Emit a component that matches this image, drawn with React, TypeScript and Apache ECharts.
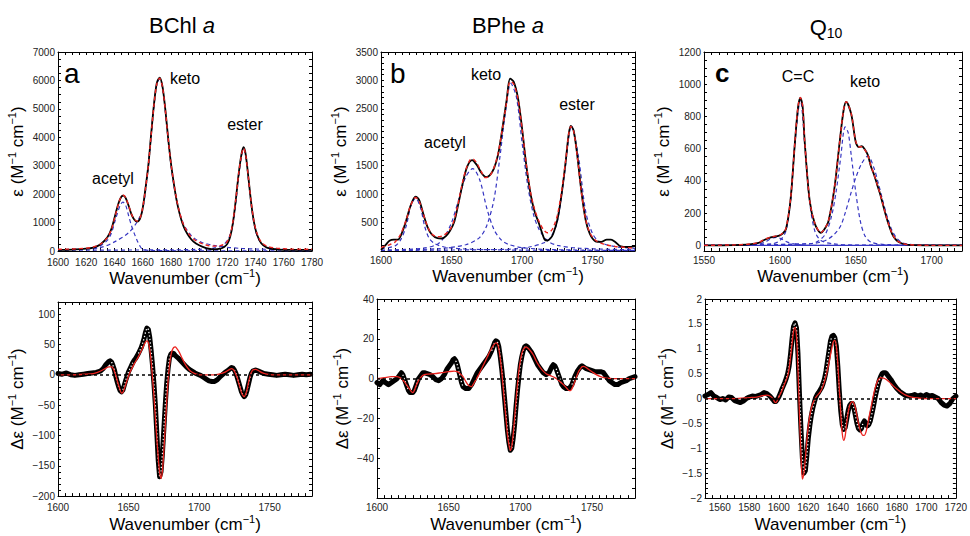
import React, { useEffect, useRef } from "react";
import * as echarts from "echarts";

type P = [number, number];

// ---------- Panel a: BChl a (IR absorption) ----------
const bchlMeasured: P[] = [[1600,40],[1610,50],[1620,80],[1625,120],[1630,230],[1635,480],[1638,800],[1641,1350],[1643,1700],[1645,1920],[1646.5,1950],[1648,1860],[1650,1600],[1652,1300],[1654,1110],[1656,1030],[1658,1120],[1660,1500],[1662,2200],[1664,3000],[1666,4100],[1668,5150],[1670,5900],[1672,6100],[1674,5800],[1676,5000],[1678,4000],[1680,3100],[1682,2400],[1684,1800],[1686,1350],[1688,1000],[1690,750],[1693,500],[1696,330],[1700,200],[1705,100],[1710,60],[1715,80],[1718,150],[1720,250],[1722,500],[1724,1000],[1726,1800],[1728,2700],[1730,3400],[1731.5,3650],[1733,3400],[1735,2550],[1737,1650],[1739,980],[1741,580],[1744,270],[1748,120],[1755,60],[1765,40],[1780,40]];
const bchlFit: P[] = [[1600,60],[1610,70],[1620,100],[1625,140],[1630,240],[1635,470],[1638,780],[1641,1320],[1643,1690],[1645,1930],[1646.5,1960],[1648,1870],[1650,1610],[1652,1310],[1654,1120],[1656,1050],[1658,1150],[1660,1520],[1662,2200],[1664,3000],[1666,4080],[1668,5130],[1670,5880],[1672,6080],[1674,5780],[1676,4980],[1678,3990],[1680,3100],[1682,2420],[1684,1830],[1686,1390],[1688,1060],[1690,820],[1693,580],[1696,420],[1700,300],[1705,210],[1710,170],[1715,190],[1718,250],[1720,340],[1722,560],[1724,1040],[1726,1820],[1728,2700],[1730,3380],[1731.5,3620],[1733,3380],[1735,2550],[1737,1670],[1739,1010],[1741,620],[1744,320],[1748,170],[1755,100],[1765,70],[1780,60]];
const bchlAcetyl: P[] = [[1600,40],[1615,60],[1625,110],[1630,180],[1635,380],[1638,650],[1641,1150],[1644,1600],[1646,1720],[1648,1600],[1650,1250],[1652,900],[1654,620],[1656,380],[1658,180],[1660,60],[1665,20],[1680,10],[1780,5]];
const bchlKeto: P[] = [[1600,40],[1615,70],[1630,120],[1640,320],[1650,640],[1655,940],[1658,1200],[1660,1450],[1662,2100],[1664,2950],[1666,4050],[1668,5100],[1670,5850],[1672,6050],[1674,5750],[1676,4950],[1678,3950],[1680,3050],[1682,2350],[1684,1800],[1686,1380],[1688,1070],[1690,850],[1694,570],[1698,400],[1702,300],[1710,200],[1720,130],[1730,90],[1740,70],[1760,50],[1780,40]];
const bchlEster: P[] = [[1600,30],[1680,40],[1700,60],[1710,100],[1715,160],[1718,250],[1721,450],[1724,950],[1726,1700],[1728,2600],[1730,3350],[1731.5,3600],[1733,3350],[1735,2500],[1737,1600],[1739,950],[1741,550],[1744,280],[1748,150],[1755,80],[1765,50],[1780,40]];

// ---------- Panel b: BPhe a ----------
const bpheMeasured: P[] = [[1600,20],[1603,100],[1606,180],[1609,200],[1612,200],[1615,330],[1618,550],[1621,800],[1624.5,955],[1627,900],[1630,650],[1633,420],[1636,290],[1640,225],[1643,220],[1646,260],[1649,360],[1652,520],[1655,850],[1658,1200],[1661,1480],[1664.5,1600],[1668,1510],[1671,1380],[1674.5,1300],[1677,1330],[1680,1450],[1683,1700],[1686,2150],[1689,2650],[1691.5,3030],[1694,2980],[1697,2700],[1700,2150],[1703,1500],[1706,1000],[1709,680],[1712,480],[1714,330],[1716,200],[1718,185],[1720,220],[1722,300],[1725,550],[1728,1000],[1731,1600],[1733,2050],[1734.5,2200],[1736.5,2120],[1739,1700],[1742,1050],[1745,550],[1748,300],[1752,170],[1756,160],[1760,200],[1763,200],[1766,160],[1770,80],[1775,70],[1780,85]];
const bpheFit: P[] = [[1600,60],[1605,100],[1610,160],[1614,300],[1618,560],[1621,800],[1624.5,940],[1627,880],[1630,650],[1633,430],[1636,300],[1640,250],[1644,270],[1648,350],[1651,480],[1654,760],[1657,1120],[1660,1420],[1663,1600],[1665,1620],[1668,1540],[1671,1400],[1674,1290],[1677,1320],[1680,1460],[1683,1720],[1686,2150],[1689,2620],[1691.5,2980],[1694,2940],[1697,2680],[1700,2150],[1703,1520],[1706,1030],[1709,720],[1712,520],[1715,380],[1718,320],[1720,340],[1722,410],[1725,630],[1728,1050],[1731,1620],[1733,2050],[1734.5,2190],[1736.5,2110],[1739,1680],[1742,1040],[1745,560],[1748,320],[1752,190],[1758,120],[1766,80],[1780,50]];
const bpheBand1625: P[] = [[1600,40],[1610,90],[1614,200],[1618,450],[1621,780],[1624.5,930],[1628,760],[1631,430],[1634,230],[1638,130],[1645,70],[1660,35],[1700,15],[1780,5]];
const bpheAcetyl: P[] = [[1600,10],[1630,50],[1640,120],[1645,250],[1650,500],[1655,900],[1660,1300],[1665,1450],[1670,1250],[1675,750],[1680,380],[1685,200],[1690,120],[1700,60],[1720,25],[1780,10]];
const bpheKeto: P[] = [[1600,10],[1640,40],[1660,110],[1670,240],[1675,450],[1680,900],[1684,1600],[1688,2400],[1692,2950],[1696,2700],[1700,1900],[1704,1150],[1708,650],[1712,380],[1718,180],[1725,100],[1740,50],[1780,20]];
const bpheEster: P[] = [[1600,10],[1690,30],[1705,70],[1715,140],[1720,230],[1725,520],[1730,1350],[1735,2200],[1740,1650],[1745,700],[1750,300],[1755,160],[1765,80],[1780,45]];

// ---------- Panel c: Q10 ----------
const q10Measured: P[] = [[1550,0],[1570,2],[1580,6],[1586,15],[1590,35],[1594,50],[1597,55],[1600,62],[1602,75],[1604,100],[1607,280],[1610,650],[1612,860],[1613.5,915],[1615,860],[1616.3,650],[1619.6,280],[1623,135],[1627,78],[1629,95],[1632,150],[1636,360],[1639.5,650],[1642,840],[1643.7,890],[1647,815],[1650,640],[1652,610],[1654,615],[1656,595],[1658,560],[1660,490],[1662,440],[1664,380],[1666,320],[1668,250],[1670,180],[1672,120],[1674,70],[1676,40],[1678,22],[1681,10],[1685,3],[1700,0],[1720,0]];
const q10Fit: P[] = [[1550,0],[1570,3],[1580,8],[1586,18],[1590,38],[1594,52],[1597,57],[1600,64],[1602,78],[1604,105],[1607,285],[1610,655],[1612,865],[1613.5,918],[1615,862],[1616.3,652],[1619.6,282],[1623,138],[1627,80],[1629,96],[1632,152],[1636,362],[1639.5,652],[1642,842],[1643.7,892],[1647,818],[1650,645],[1652,612],[1654,612],[1656,592],[1658,558],[1660,492],[1662,442],[1664,382],[1666,322],[1668,252],[1670,182],[1672,122],[1674,72],[1676,42],[1678,24],[1681,11],[1685,4],[1700,0],[1720,0]];
const q10CC: P[] = [[1550,0],[1595,10],[1600,30],[1604,90],[1607,270],[1610,640],[1613.5,905],[1616.3,640],[1619.6,270],[1623,90],[1627,30],[1635,10],[1650,2],[1720,0]];
const q10Keto1: P[] = [[1550,0],[1620,10],[1625,25],[1630,70],[1634,180],[1637,330],[1640,540],[1643,735],[1645,700],[1647,560],[1650,330],[1653,150],[1656,60],[1660,20],[1670,5],[1720,0]];
const q10Keto2: P[] = [[1550,0],[1620,10],[1630,30],[1636,70],[1640,120],[1643,200],[1647,330],[1650,420],[1654,510],[1658,555],[1662,480],[1665,380],[1668,270],[1671,170],[1674,90],[1677,45],[1681,15],[1690,3],[1720,0]];
const q10Band1598: P[] = [[1550,0],[1585,5],[1590,20],[1595,45],[1598,50],[1601,40],[1605,20],[1610,8],[1620,0],[1720,0]];
const q10Baseline: P[] = [[1550,0],[1720,0]];

// ---------- Panel d: BChl a CD ----------
const bchlCdMeasured: P[] = [[1600,2],[1603,1],[1606,3],[1609,0],[1612,-1],[1615,0],[1618,1],[1621,2],[1624,3],[1627,4],[1630,6],[1632,10],[1634,17],[1636,22],[1637,23],[1638,21],[1639,15],[1640,8],[1641,-3],[1642,-12],[1643,-20],[1644,-26],[1645,-28],[1646,-25],[1647,-17],[1648,-9],[1649,-2],[1650,5],[1651,10],[1652,15],[1653,20],[1654,24],[1655,27],[1656,31],[1657,35],[1658,40],[1659,45],[1660,52],[1661,60],[1662,70],[1663,77],[1664,75],[1665,62],[1666,40],[1667,15],[1668,-15],[1669,-50],[1670,-95],[1671,-140],[1672,-168],[1673,-160],[1674,-130],[1675,-90],[1676,-50],[1677,-15],[1678,10],[1679,28],[1680,34],[1681,36],[1682,35],[1683,32],[1685,28],[1687,23],[1689,18],[1691,13],[1693,9],[1695,6],[1697,3],[1699,1],[1701,-1],[1703,-4],[1705,-7],[1707,-10],[1709,-11],[1711,-11],[1713,-8],[1715,-3],[1717,1],[1719,5],[1721,8],[1723,12],[1724,11],[1725,8],[1726,3],[1727,-4],[1728,-12],[1729,-20],[1730,-28],[1731,-33],[1732,-36],[1733,-33],[1734,-25],[1735,-15],[1736,-5],[1737,2],[1738,6],[1740,8],[1742,6],[1744,4],[1746,2],[1749,1],[1752,0],[1755,-1],[1758,0],[1761,1],[1764,0],[1767,-1],[1770,0],[1773,1],[1776,0],[1779,1]];
const bchlCdFit: P[] = [[1600,0],[1610,0],[1620,1],[1625,2],[1628,4],[1631,7],[1634,11],[1636,13],[1638,13],[1640,6],[1642,-10],[1644,-25],[1645,-30],[1646,-29],[1647,-23],[1649,-9],[1651,4],[1654,18],[1657,30],[1660,44],[1662,54],[1663,56],[1664,53],[1665,42],[1666,22],[1667,-5],[1668,-35],[1669,-70],[1670,-105],[1671,-135],[1672,-160],[1673,-171],[1674,-158],[1675,-125],[1676,-85],[1677,-45],[1678,-10],[1679,15],[1680,32],[1681,41],[1682,45],[1683,46],[1684,44],[1686,37],[1688,27],[1690,18],[1692,11],[1694,6],[1697,2],[1700,0],[1705,0],[1710,0],[1714,1],[1718,4],[1721,8],[1723,10],[1724,9],[1725,6],[1726,1],[1727,-5],[1728,-13],[1729,-21],[1730,-29],[1731,-34],[1732,-36],[1733,-32],[1734,-24],[1735,-13],[1736,-3],[1737,4],[1738,8],[1740,9],[1742,7],[1745,3],[1748,1],[1752,0],[1780,0]];

// ---------- Panel e: BPhe a CD ----------
const bpheCdMeasured: P[] = [[1600,-2],[1602,-3],[1604,-1],[1606,-2],[1608,-3],[1610,-2],[1612,-1],[1614,0],[1616,2],[1617,3],[1618,2],[1619,0],[1620,-2],[1621,-4],[1622,-6],[1623,-7],[1624,-7],[1625,-7],[1626,-6],[1627,-4],[1628,-2],[1629,0],[1630,1],[1631,2],[1632,3],[1633,3],[1635,2.5],[1637,2],[1639,1],[1641,-0.5],[1643,-1],[1645,0],[1647,2],[1649,5],[1651,7],[1652,8],[1653,9.5],[1654,10],[1655,9],[1656,7],[1657,4],[1658,1],[1659,-2],[1660,-4],[1662,-5],[1664,-5],[1666,-3],[1668,0],[1670,3],[1672,5],[1674,7],[1676,9],[1678,11],[1680,14],[1682,18],[1683,19],[1684,18.5],[1685,16],[1686,11],[1687,5],[1688,-2],[1689,-10],[1690,-18],[1691,-26],[1692,-32],[1693,-36],[1694,-35],[1695,-30],[1696,-23],[1697,-14],[1698,-6],[1699,1],[1700,7],[1701,11],[1702,14],[1703,16],[1704,16.5],[1705,16],[1706,15],[1708,13],[1710,10],[1712,7],[1714,5],[1716,3],[1718,2],[1720,3],[1721,4.5],[1722,6],[1723,7],[1724,6.5],[1725,5],[1726,3],[1727,1],[1728,-1],[1729,-3],[1730,-4],[1732,-5],[1734,-5],[1735,-4],[1736,-3],[1737,-1],[1738,1],[1739,2.5],[1740,4],[1741,5],[1742,6],[1743,6.5],[1744,6],[1746,5],[1748,4.5],[1750,4],[1752,3.5],[1754,3.5],[1756,3.5],[1758,3],[1760,1],[1762,-1],[1764,-2],[1766,-3],[1768,-3],[1770,-2],[1772,-1.5],[1774,-1],[1776,0],[1778,0.5],[1780,1]];
const bpheCdFit: P[] = [[1600,0],[1605,0.5],[1610,1],[1614,1],[1617,0],[1619,-1.5],[1621,-3.5],[1623,-5.5],[1624,-6.5],[1625,-7],[1626,-6],[1627,-4],[1629,-1],[1631,1],[1633,2],[1636,2.3],[1640,2.5],[1645,3],[1650,3.5],[1654,3.8],[1656,3.5],[1658,2.5],[1660,1],[1662,-1.5],[1664,-3.5],[1666,-4],[1667,-3],[1669,-0.5],[1671,2],[1673,5],[1675,8],[1677,11],[1679,14],[1681,16.5],[1683,18],[1684,17.5],[1685,15],[1686,10],[1687,4],[1688,-4],[1689,-12],[1690,-20],[1691,-28],[1692,-33],[1693,-36],[1694,-34],[1695,-28],[1696,-20],[1697,-11],[1698,-3],[1699,4],[1700,9],[1701,12.5],[1702,14.5],[1703,15.5],[1704,16],[1705,15.5],[1707,14],[1709,12],[1711,9],[1713,6.5],[1715,4.5],[1718,2.5],[1721,1.5],[1724,0.5],[1727,-1],[1730,-3],[1732,-4.5],[1734,-6],[1735,-6],[1736,-5],[1737,-3.5],[1738,-1.5],[1739,0.5],[1740,2.5],[1741,4],[1742,5],[1743,6],[1744,6.2],[1745,6],[1747,5],[1750,3.5],[1753,2],[1756,1],[1760,0.3],[1770,0],[1780,0]];

// ---------- Panel f: Q10 CD ----------
const q10CdMeasured: P[] = [[1550,0.05],[1552,0.08],[1554,0.12],[1556,0.05],[1558,0.02],[1560,-0.02],[1562,0],[1564,-0.03],[1566,0.03],[1568,0.02],[1570,-0.04],[1572,-0.06],[1574,-0.08],[1576,-0.05],[1578,0],[1580,0.03],[1582,0.05],[1584,0.04],[1586,0.06],[1588,0.08],[1590,0.12],[1592,0.1],[1594,0.05],[1596,-0.02],[1597,-0.06],[1598,-0.06],[1599,-0.02],[1600,0.03],[1601,0.1],[1602,0.18],[1603,0.25],[1604,0.32],[1605,0.4],[1606,0.5],[1607,0.65],[1608,0.9],[1609,1.2],[1610,1.45],[1611,1.52],[1612,1.42],[1613,0.9],[1614,0.1],[1615,-0.6],[1616,-1.2],[1617,-1.5],[1618,-1.45],[1619,-1.15],[1620,-0.8],[1621,-0.55],[1622,-0.35],[1623,-0.2],[1624,-0.08],[1625,0.02],[1626,0.08],[1627,0.12],[1628,0.17],[1629,0.22],[1630,0.3],[1631,0.4],[1632,0.55],[1633,0.75],[1634,0.95],[1635,1.15],[1636,1.25],[1637,1.27],[1638,1.22],[1639,1.05],[1640,0.65],[1641,0.15],[1642,-0.25],[1643,-0.52],[1644,-0.62],[1645,-0.58],[1646,-0.42],[1647,-0.25],[1648,-0.14],[1649,-0.1],[1650,-0.1],[1651,-0.2],[1652,-0.35],[1653,-0.5],[1654,-0.6],[1655,-0.63],[1656,-0.6],[1657,-0.5],[1658,-0.45],[1659,-0.5],[1660,-0.55],[1661,-0.52],[1662,-0.45],[1663,-0.32],[1664,-0.18],[1665,-0.02],[1666,0.12],[1667,0.25],[1668,0.36],[1669,0.44],[1670,0.5],[1671,0.52],[1672,0.52],[1673,0.5],[1674,0.46],[1676,0.38],[1678,0.28],[1680,0.2],[1682,0.14],[1684,0.1],[1686,0.06],[1688,0.05],[1690,0.06],[1692,0.08],[1694,0.05],[1696,0.07],[1698,0.04],[1700,0.08],[1702,0.05],[1704,0.06],[1706,0.03],[1708,0],[1710,-0.08],[1712,-0.13],[1714,-0.15],[1716,-0.1],[1718,0],[1720,0.05]];
const q10CdFit: P[] = [[1550,0],[1560,0],[1570,0],[1580,0.02],[1585,0.03],[1589,0.06],[1592,0.07],[1594,0.05],[1596,0],[1597,-0.06],[1598,-0.08],[1599,-0.04],[1600,0.03],[1602,0.15],[1604,0.3],[1606,0.45],[1607,0.6],[1608,0.85],[1609,1.1],[1610,1.35],[1611,1.43],[1612,1.25],[1613,0.6],[1614,-0.3],[1615,-1.1],[1616,-1.62],[1617,-1.5],[1618,-1.2],[1619,-0.85],[1620,-0.55],[1621,-0.35],[1622,-0.2],[1624,-0.03],[1626,0.06],[1628,0.13],[1630,0.25],[1632,0.45],[1634,0.72],[1636,1.02],[1637,1.14],[1638,1.17],[1639,1.05],[1640,0.7],[1641,0.2],[1642,-0.3],[1643,-0.7],[1644,-0.84],[1645,-0.75],[1646,-0.5],[1647,-0.28],[1648,-0.14],[1649,-0.08],[1650,-0.06],[1651,-0.1],[1652,-0.2],[1653,-0.35],[1654,-0.5],[1655,-0.62],[1656,-0.7],[1657,-0.74],[1658,-0.74],[1659,-0.68],[1660,-0.55],[1661,-0.4],[1662,-0.25],[1663,-0.1],[1664,0.05],[1665,0.18],[1666,0.28],[1667,0.36],[1668,0.4],[1669,0.42],[1671,0.41],[1673,0.38],[1675,0.33],[1677,0.27],[1680,0.19],[1683,0.12],[1686,0.07],[1690,0.03],[1695,0.01],[1700,0],[1720,0]];

// ---------- tick labels ----------
const aXLabels = [1600, 1620, 1640, 1660, 1680, 1700, 1720, 1740, 1760, 1780];
const aYLabels = [0, 1000, 2000, 3000, 4000, 5000, 6000, 7000];
const bXLabels = [1600, 1650, 1700, 1750];
const bYLabels = [500, 1000, 1500, 2000, 2500, 3000, 3500];
const cXLabels = [1550, 1600, 1650, 1700];
const cYLabels = [0, 200, 400, 600, 800, 1000, 1200];
const dXLabels = [1600, 1650, 1700, 1750];
const dYLabels = [-200, -150, -100, -50, 0, 50, 100];
const eXLabels = [1600, 1650, 1700, 1750];
const eYLabels = [-40, -20, 0, 20, 40];
const fXLabels = [1560, 1580, 1600, 1620, 1640, 1660, 1680, 1700, 1720];
const fYLabels = [-2, -1.5, -1, -0.5, 0, 0.5, 1, 1.5, 2];

const FONT = "'Liberation Sans', Arial, Helvetica, sans-serif";
const BLUE = "#3535c2";
const RED = "#ec2420";

function steps(a: number, b: number, s: number): number[] {
  const out: number[] = [];
  const n = Math.round((b - a) / s);
  for (let k = 0; k <= n; k++) out.push(Math.round((a + k * s) * 1000) / 1000);
  return out;
}

const fmt = (v: number) => String(v).replace("-", "\u2212");

interface Panel {
  left: number; top: number; width: number; height: number;
  xMin: number; xMax: number; xLabels: number[]; xStep: number;
  yMin: number; yMax: number; yLabels: number[]; yStep: number; yMinorFrom: number;
  yName: string; yNameGap: number; xNameGap: number; xLabelMargin: number;
}

const EPS = "\u03b5 (M{s|\u22121} cm{s|\u22121})";
const DEPS = "\u0394\u03b5 (M{s|\u22121} cm{s|\u22121})";

const panels: Panel[] = [
  { left: 58, top: 52, width: 254, height: 199, xMin: 1600, xMax: 1780, xLabels: aXLabels, xStep: 5, yMin: 0, yMax: 7000, yLabels: aYLabels, yStep: 250, yMinorFrom: 0, yName: EPS, yNameGap: 14, xNameGap: 12, xLabelMargin: 6 },
  { left: 381, top: 52, width: 254, height: 199, xMin: 1600, xMax: 1780, xLabels: bXLabels, xStep: 5, yMin: 0, yMax: 3500, yLabels: bYLabels, yStep: 100, yMinorFrom: 0, yName: EPS, yNameGap: 14, xNameGap: 12, xLabelMargin: 4 },
  { left: 704, top: 52, width: 258, height: 199, xMin: 1550, xMax: 1720, xLabels: cXLabels, xStep: 5, yMin: -35, yMax: 1200, yLabels: cYLabels, yStep: 50, yMinorFrom: 0, yName: EPS, yNameGap: 14, xNameGap: 12, xLabelMargin: 4 },
  { left: 58, top: 302, width: 254, height: 200, xMin: 1600, xMax: 1780, xLabels: dXLabels, xStep: 5, yMin: -200, yMax: 120, yLabels: dYLabels, yStep: 10, yMinorFrom: -200, yName: DEPS, yNameGap: 18, xNameGap: 12, xLabelMargin: 6 },
  { left: 377, top: 299, width: 258, height: 204, xMin: 1600, xMax: 1780, xLabels: eXLabels, xStep: 5, yMin: -60, yMax: 40, yLabels: eYLabels, yStep: 5, yMinorFrom: -60, yName: DEPS, yNameGap: 18, xNameGap: 12, xLabelMargin: 4 },
  { left: 705, top: 299, width: 256, height: 202, xMin: 1550, xMax: 1720, xLabels: fXLabels, xStep: 5, yMin: -2, yMax: 2, yLabels: fYLabels, yStep: 0.1, yMinorFrom: -2, yName: DEPS, yNameGap: 18, xNameGap: 12, xLabelMargin: 4 },
];

const nameStyle = {
  fontSize: 17, color: "#000", fontFamily: FONT, lineHeight: 22,
  rich: { s: { fontSize: 11, lineHeight: 11, verticalAlign: "top", color: "#000", fontFamily: FONT } },
};

function buildAxes() {
  const xAxis: any[] = [];
  const yAxis: any[] = [];
  panels.forEach((p, i) => {
    const xMinor = steps(p.xMin, p.xMax, p.xStep);
    const yMinor = steps(p.yMinorFrom, p.yMax, p.yStep);
    const common = {
      type: "value", gridIndex: i, splitLine: { show: false },
      axisLine: { show: true, onZero: false, lineStyle: { color: "#000", width: 1 } },
    };
    xAxis.push({
      ...common, position: "bottom", min: p.xMin, max: p.xMax,
      axisTick: { show: true, inside: true, length: 3, customValues: xMinor, lineStyle: { color: "#000" } },
      axisLabel: { show: true, customValues: p.xLabels, fontSize: 10, color: "#222", margin: p.xLabelMargin, fontFamily: FONT, formatter: fmt },
      name: "Wavenumber (cm{s|\u22121})", nameLocation: "middle", nameGap: p.xNameGap, nameTextStyle: nameStyle,
    });
    xAxis.push({
      ...common, position: "top", min: p.xMin, max: p.xMax,
      axisTick: { show: true, inside: true, length: 3, customValues: xMinor, lineStyle: { color: "#000" } },
      axisLabel: { show: false },
    });
    yAxis.push({
      ...common, position: "left", min: p.yMin, max: p.yMax,
      axisTick: { show: true, inside: true, length: 3, customValues: yMinor, lineStyle: { color: "#000" } },
      axisLabel: { show: true, customValues: p.yLabels, fontSize: 10, color: "#222", margin: 3, fontFamily: FONT, formatter: fmt },
      name: p.yName, nameLocation: "middle", nameGap: p.yNameGap, nameTextStyle: nameStyle,
    });
    yAxis.push({
      ...common, position: "right", min: p.yMin, max: p.yMax,
      axisTick: { show: true, inside: true, length: 3, customValues: yMinor, lineStyle: { color: "#000" } },
      axisLabel: { show: false },
    });
  });
  return { xAxis, yAxis };
}

function topSeries(i: number, measured: P[], fit: P[], comps: P[][], solidComps: P[][] = []) {
  const base = {
    type: "line", xAxisIndex: 2 * i, yAxisIndex: 2 * i, symbol: "none", showSymbol: false,
    silent: true, smooth: 0.3, emphasis: { disabled: true },
  };
  return [
    ...solidComps.map((c) => ({ ...base, data: c, z: 2, smooth: false, lineStyle: { color: BLUE, width: 1.3 } })),
    ...comps.map((c) => ({ ...base, data: c, z: 2, lineStyle: { color: BLUE, width: 1.2, type: [4, 3] } })),
    { ...base, data: measured, z: 3, lineStyle: { color: "#000", width: 1.8 } },
    { ...base, data: fit, z: 4, lineStyle: { color: RED, width: 1.4, type: [4, 3] } },
  ];
}

// The measured CD traces are dense strings of open circles: where the trace is steep the
// circles separate and their white centres show. Keep only the steep stretches for the
// white dotted overlay (gaps elsewhere).
function steepOnly(data: P[], p: Panel): (number | string)[][] {
  const sx = p.width / (p.xMax - p.xMin);
  const sy = p.height / (p.yMax - p.yMin);
  const steep = (k: number) => {
    if (k < 0 || k >= data.length - 1) return false;
    const dx = (data[k + 1][0] - data[k][0]) * sx;
    const dy = Math.abs(data[k + 1][1] - data[k][1]) * sy;
    return dy / Math.max(dx, 1e-6) > 2.2;
  };
  return data.map((d, k) => (steep(k) || steep(k - 1) ? [d[0], d[1]] : [d[0], "-"]));
}

function bottomSeries(i: number, measured: P[], fit: P[]) {
  const ax = { xAxisIndex: 2 * i, yAxisIndex: 2 * i, silent: true, emphasis: { disabled: true } };
  return [
    {
      ...ax, type: "line", data: [], z: 1, symbol: "none",
      markLine: {
        silent: true, symbol: ["none", "none"], label: { show: false }, animation: false,
        lineStyle: { color: "#000", width: 1.5, type: [3, 3] }, data: [{ yAxis: 0 }],
      },
    },
    {
      ...ax, type: "line", data: measured, z: 2, symbol: "none", showSymbol: false,
      lineStyle: { color: "#000", width: 5, join: "round", cap: "round" },
    },
    {
      ...ax, type: "line", data: steepOnly(measured, panels[i]), z: 3, symbol: "none", showSymbol: false,
      connectNulls: false,
      lineStyle: { color: "#fff", width: 1.3, type: [1.3, 2.2] },
    },
    {
      ...ax, type: "line", data: fit, z: 4, symbol: "none", showSymbol: false, smooth: 0.3,
      lineStyle: { color: RED, width: 1.3 },
    },
  ];
}

function txt(x: number, y: number, text: string, size: number, extra: any = {}) {
  return {
    type: "text", x, y, silent: true, z: 10,
    style: {
      text, fontSize: size, fontFamily: FONT, fill: "#000",
      align: "center", verticalAlign: "middle", ...extra,
    },
  };
}

function buildOption() {
  const { xAxis, yAxis } = buildAxes();
  const series = [
    ...topSeries(0, bchlMeasured, bchlFit, [bchlAcetyl, bchlKeto, bchlEster]),
    ...topSeries(1, bpheMeasured, bpheFit, [bpheBand1625, bpheAcetyl, bpheKeto, bpheEster]),
    ...topSeries(2, q10Measured, q10Fit, [q10Band1598, q10CC, q10Keto1, q10Keto2], [q10Baseline]),
    ...bottomSeries(3, bchlCdMeasured, bchlCdFit),
    ...bottomSeries(4, bpheCdMeasured, bpheCdFit),
    ...bottomSeries(5, q10CdMeasured, q10CdFit),
  ];
  const graphic = [
    txt(182, 25, "BChl {i|a}", 22, { rich: { i: { fontStyle: "italic", fontSize: 22, fontFamily: FONT } } }),
    txt(508, 25, "BPhe {i|a}", 22, { rich: { i: { fontStyle: "italic", fontSize: 22, fontFamily: FONT } } }),
    txt(826, 27, "{q|Q}{s|10}", 22, {
      rich: {
        q: { fontSize: 22, lineHeight: 26, fontFamily: FONT },
        s: { fontSize: 14, lineHeight: 14, verticalAlign: "bottom", fontFamily: FONT },
      },
    }),
    txt(64, 73, "a", 28, { align: "left" }),
    txt(390, 73, "b", 28, { align: "left" }),
    txt(715, 73, "c", 26, { align: "left", fontWeight: "bold" }),
    txt(185, 78, "keto", 16),
    txt(245, 124, "ester", 16),
    txt(113, 178, "acetyl", 16),
    txt(486, 74, "keto", 16),
    txt(577, 104, "ester", 16),
    txt(445, 142, "acetyl", 16),
    txt(798, 76, "C=C", 16),
    txt(865, 81, "keto", 16),
  ];
  return {
    animation: false,
    backgroundColor: "#fff",
    textStyle: { fontFamily: FONT },
    grid: panels.map((p) => ({ left: p.left, top: p.top, width: p.width, height: p.height, show: false })),
    xAxis, yAxis, series, graphic,
  };
}

export default function App() {
  const ref = useRef<HTMLDivElement>(null);
  useEffect(() => {
    if (!ref.current) return;
    const chart = echarts.init(ref.current, undefined, { renderer: "svg" });
    chart.setOption(buildOption() as any);
    return () => chart.dispose();
  }, []);
  return (
    <div
      ref={ref}
      style={{ position: "fixed", left: 0, top: 0, width: 970, height: 536, background: "#fff" }}
    />
  );
}
